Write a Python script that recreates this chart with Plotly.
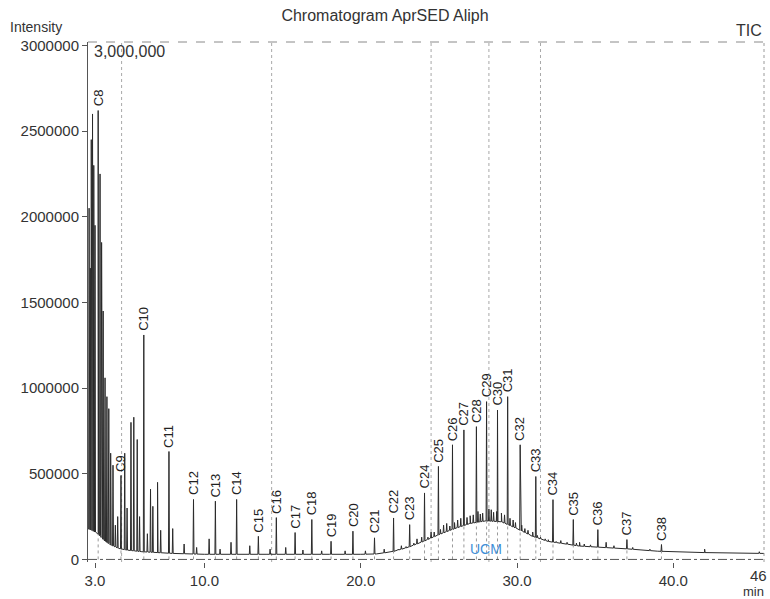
import numpy as np
import plotly.graph_objects as go

# ---------------- data ----------------
# labelled n-alkane peaks
peak_labels = ["C8", "C9", "C10", "C11", "C12", "C13", "C14", "C15", "C16", "C17",
               "C18", "C19", "C20", "C21", "C22", "C23", "C24", "C25", "C26", "C27",
               "C28", "C29", "C30", "C31", "C32", "C33", "C34", "C35", "C36", "C37", "C38"]
peak_times = [3.2, 4.66, 6.12, 7.73, 9.3, 10.7, 12.06, 13.45, 14.6, 15.8,
              16.87, 18.1, 19.5, 20.88, 22.1, 23.13, 24.08, 24.97, 25.87, 26.6,
              27.4, 28.05, 28.75, 29.4, 30.2, 31.2, 32.3, 33.6, 35.17, 37.03, 39.24]
peak_heights = [2620000, 490000, 1310000, 630000, 350000, 340000, 350000, 135000, 244000, 157000,
                233000, 106000, 165000, 126000, 242000, 203000, 388000, 543000, 669000, 756000,
                775000, 921000, 872000, 950000, 669000, 484000, 349000, 233000, 174000, 116000, 87000]

# unlabelled peaks
minor_times = [2.62, 2.70, 2.76, 2.84, 2.92, 3.0, 3.32, 3.42, 3.52, 3.64, 3.76, 3.88, 4.0,
               4.15, 4.3, 4.45, 4.9, 5.05, 5.3, 5.48, 5.7, 5.85, 6.35, 6.55, 6.7, 7.0, 7.2,
               7.97, 8.7, 9.5, 10.3, 11.0, 11.7, 12.9, 14.2, 15.2, 16.3, 17.5, 19.0, 20.3,
               21.5, 22.4, 22.6, 22.9, 23.4, 23.6, 23.9, 24.3, 24.5, 24.7, 25.1, 25.3, 25.5,
               25.7, 26.0, 26.2, 26.4, 26.8, 27.0, 27.2, 27.5, 27.65, 27.8, 28.2, 28.35, 28.5,
               28.7, 29.0, 29.2, 29.55, 29.75, 29.9, 30.3, 30.5, 30.7, 31.0, 31.3, 31.5, 31.8,
               32.0, 32.5, 32.8, 33.2, 33.8, 34.0, 34.3, 34.7, 35.7, 36.2, 37.4, 38.5, 42.0, 45.5]
minor_heights = [2050000, 1700000, 2450000, 2600000, 2300000, 1950000, 2250000, 1850000, 1450000,
                 1060000, 950000, 880000, 620000, 550000, 200000, 250000, 620000, 300000, 800000,
                 830000, 700000, 250000, 150000, 410000, 310000, 450000, 170000, 180000, 90000,
                 70000, 120000, 60000, 100000, 80000, 60000, 70000, 55000, 50000, 50000, 50000,
                 60000, 60000, 80000, 75000, 95000, 120000, 130000, 130000, 160000, 160000,
                 175000, 200000, 210000, 195000, 215000, 230000, 240000, 245000, 255000, 260000,
                 280000, 265000, 270000, 295000, 290000, 275000, 280000, 270000, 260000, 240000,
                 230000, 215000, 200000, 180000, 170000, 160000, 140000, 130000, 120000, 115000,
                 105000, 110000, 100000, 95000, 100000, 90000, 85000, 100000, 80000, 70000,
                 60000, 60000, 45000]

# baseline / unresolved complex mixture envelope
base_times = [2.55, 2.8, 3.2, 3.6, 4.0, 4.5, 5.0, 6.0, 7.0, 8.0, 10.0, 12.0, 14.0, 16.0, 18.0,
              20.0, 21.0, 22.0, 23.0, 24.0, 25.0, 26.0, 27.0, 28.0, 29.0, 30.0, 31.0, 32.0,
              33.0, 34.0, 35.5, 37.0, 39.0, 42.0, 45.8]
base_values = [180000, 170000, 150000, 110000, 85000, 65000, 55000, 45000, 40000, 35000, 30000,
               30000, 30000, 30000, 30000, 30000, 32000, 45000, 70000, 105000, 145000, 180000,
               210000, 225000, 220000, 180000, 135000, 105000, 92000, 78000, 70000, 62000,
               48000, 40000, 35000]

x_tick_vals = [3, 10, 20, 30, 40]
x_tick_text = ["3.0", "10.0", "20.0", "30.0", "40.0"]
y_tick_vals = [0, 500000, 1000000, 1500000, 2000000, 2500000, 3000000]
y_tick_text = ["0", "500000", "1000000", "1500000", "2000000", "2500000", "3000000"]
marker_times = [4.7, 14.3, 24.5, 28.2, 31.5]

# ---------------- build chromatogram trace ----------------
all_t = np.array(peak_times + minor_times)
all_h = np.array(peak_heights + minor_heights)
foot = np.interp(all_t, base_times, base_values)
w = 0.03
pts = list(zip(base_times, base_values))
for t, h, f in zip(all_t, all_h, foot):
    pts += [(t - w, f), (t, h), (t + w, f)]
pts.sort(key=lambda p: p[0])
tx = [p[0] for p in pts]
ty = [p[1] for p in pts]

# integration marks under labelled peaks
lab_foot = np.interp(peak_times, base_times, base_values)
mx, my = [], []
for t, f in zip(peak_times, lab_foot):
    mx += [t, t, None]
    my += [0, f, None]

FONT = "Liberation Sans, Arial, sans-serif"
fig = go.Figure()
fig.add_trace(go.Scatter(x=mx, y=my, mode="lines",
                         line=dict(color="#9a9a9a", width=1, dash="dot"),
                         hoverinfo="skip", showlegend=False))
fig.add_trace(go.Scatter(x=tx, y=ty, mode="lines",
                         line=dict(color="#2b2b2b", width=1),
                         showlegend=False))

shapes = []
for t in marker_times:
    shapes.append(dict(type="line", xref="x", yref="paper", x0=t, x1=t, y0=0, y1=1,
                       line=dict(color="#a8a8a8", width=1, dash="dot"), layer="below"))
shapes.append(dict(type="line", xref="paper", yref="paper", x0=0, x1=1, y0=1, y1=1,
                   line=dict(color="#8a8a8a", width=1, dash="dash")))
shapes.append(dict(type="line", xref="paper", yref="paper", x0=1, x1=1, y0=0, y1=1,
                   line=dict(color="#9a9a9a", width=1, dash="dot")))
shapes.append(dict(type="line", xref="paper", yref="y", x0=0, x1=1, y0=0, y1=0,
                   line=dict(color="#555555", width=1, dash="dashdot")))

ann = []
for lab, t, h in zip(peak_labels, peak_times, peak_heights):
    ann.append(dict(x=t, y=h, xref="x", yref="y", text=lab, showarrow=False,
                    textangle=-90, xanchor="center", yanchor="bottom", yshift=2,
                    font=dict(family=FONT, size=13, color="#222")))
ann += [
    dict(x=-0.118, y=1.028, xref="paper", yref="paper", text="Intensity", showarrow=False,
         xanchor="left", yanchor="middle", font=dict(family=FONT, size=14, color="#333")),
    dict(x=0.006, y=0.981, xref="paper", yref="paper", text="3,000,000", showarrow=False,
         xanchor="left", yanchor="middle", font=dict(family=FONT, size=16, color="#333")),
    dict(x=1, y=1.023, xref="paper", yref="paper", text="TIC", showarrow=False,
         xanchor="right", yanchor="middle", font=dict(family=FONT, size=16, color="#333")),
    dict(x=1.007, y=-0.026, xref="paper", yref="paper", text="46", showarrow=False,
         xanchor="right", yanchor="middle", font=dict(family=FONT, size=15, color="#333")),
    dict(x=0.984, y=-0.0565, xref="paper", yref="paper", text="min", showarrow=False,
         xanchor="center", yanchor="middle", font=dict(family=FONT, size=13, color="#333")),
    dict(x=28.0, y=60000, xref="x", yref="y", text="UCM", showarrow=False,
         xanchor="center", yanchor="middle", font=dict(family=FONT, size=14, color="#3f8fd8")),
]

fig.update_layout(
    width=770, height=599,
    margin=dict(l=88, r=6, t=42, b=37),
    paper_bgcolor="white", plot_bgcolor="white",
    title=dict(text="Chromatogram AprSED Aliph", x=0.5, y=0.975, xanchor="center",
               yanchor="middle", font=dict(family=FONT, size=16, color="#333")),
    shapes=shapes, annotations=ann, showlegend=False,
    xaxis=dict(range=[2.55, 45.8], tickvals=x_tick_vals, ticktext=x_tick_text,
               ticks="outside", ticklen=5, tickcolor="#555", showgrid=False, zeroline=False,
               showline=False, tickfont=dict(family=FONT, size=15, color="#333")),
    yaxis=dict(range=[-15000, 3020000], tickvals=y_tick_vals, ticktext=y_tick_text,
               ticks="outside", ticklen=5, tickcolor="#555", showgrid=False, zeroline=False,
               showline=True, linecolor="#555", linewidth=1,
               tickfont=dict(family=FONT, size=15, color="#333")),
)

fig.write_html("out.html", config={"displayModeBar": False},
               post_script="document.body.style.margin='0';")
